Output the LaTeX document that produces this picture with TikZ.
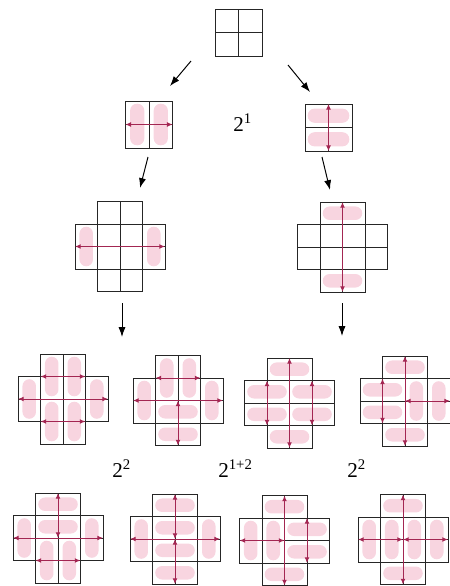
\documentclass[tikz,border=0pt]{standalone}
\usepackage{fontspec}
\setmainfont{Liberation Serif}
\usepackage{tikz}
\usetikzlibrary{arrows.meta}
\definecolor{dompink}{HTML}{F8D5E0}
\definecolor{flipred}{HTML}{A32652}

\newcommand{\cellsone}{-1/-1,0/-1,-1/0,0/0}
\newcommand{\cellstwo}{-1/1,0/1,-2/0,-1/0,0/0,1/0,-2/-1,-1/-1,0/-1,1/-1,-1/-2,0/-2}
\newcommand{\vdom}[2]{\fill[dom] (#1+0.2,#2+0.12) rectangle (#1+0.8,#2+1.88);}
\newcommand{\hdom}[2]{\fill[dom] (#1+0.12,#2+0.2) rectangle (#1+1.88,#2+0.8);}
% #1 cells, #2 dominoes, #3 flip arrows x1/y1/x2/y2
\newcommand{\tiling}[3]{%
  #2
  \foreach \i/\j in #1 {\draw[cell] (\i,\j) rectangle ++(1,1);}
  \foreach \a/\b/\c/\d in {#3} {\draw[flip] (\a,\b) -- (\c,\d);}
}

\begin{document}
\begin{tikzpicture}[x=0.025cm, y=-0.025cm,
  cell/.style={draw=black!85, line width=0.55pt},
  dom/.style={fill=dompink, rounded corners=0.17cm},
  flip/.style={{Latex[length=4pt,width=3.4pt]}-{Latex[length=4pt,width=3.4pt]}, draw=flipred, line width=0.65pt},
  arr/.style={-{Latex[length=7pt,width=5pt]}, line width=0.7pt},
  lab/.style={anchor=base west, inner sep=0pt, font=\fontsize{15}{18}\selectfont}
]
\useasboundingbox (0,0) rectangle (449,586);

\coordinate (top) at (238.5,32.5);
\coordinate (l1) at (149,124.5);
\coordinate (r1) at (328.5,127.5);
\coordinate (l2) at (120,246.5);
\coordinate (r2) at (342.5,247);
\coordinate (up1) at (63,399);
\coordinate (up2) at (178,400.5);
\coordinate (up3) at (289.5,403);
\coordinate (up4) at (405,401);
\coordinate (lo1) at (58,538);
\coordinate (lo2) at (175,539);
\coordinate (lo3) at (284.5,540.5);
\coordinate (lo4) at (403,539.5);

\begin{scope}[shift={(top)}, x=0.59cm, y=0.59cm]
  \foreach \i/\j in \cellsone {\draw[cell] (\i,\j) rectangle ++(1,1);}
\end{scope}
\begin{scope}[shift={(l1)}, x=0.59cm, y=0.59cm]
  \tiling{\cellsone}{\vdom{-1}{-1}\vdom{0}{-1}}{-1/0/1/0}
\end{scope}
\begin{scope}[shift={(r1)}, x=0.59cm, y=0.59cm]
  \tiling{\cellsone}{\hdom{-1}{0}\hdom{-1}{-1}}{0/-1/0/1}
\end{scope}

\begin{scope}[shift={(l2)}, x=0.5625cm, y=0.5625cm]
  \tiling{\cellstwo}{\vdom{-2}{-1}\vdom{1}{-1}}{-2/0/2/0}
\end{scope}
\begin{scope}[shift={(r2)}, x=0.5625cm, y=0.5625cm]
  \tiling{\cellstwo}{\hdom{-1}{1}\hdom{-1}{-2}}{0/-2/0/2}
\end{scope}

\begin{scope}[shift={(up1)}, x=0.5625cm, y=0.5625cm]
  \tiling{\cellstwo}{\vdom{-1}{0}\vdom{0}{0}\vdom{-2}{-1}\vdom{1}{-1}\vdom{-1}{-2}\vdom{0}{-2}}
    {-1/1/1/1, -2/0/2/0, -1/-1/1/-1}
\end{scope}
\begin{scope}[shift={(up2)}, x=0.5625cm, y=0.5625cm]
  \tiling{\cellstwo}{\vdom{-1}{0}\vdom{0}{0}\vdom{-2}{-1}\vdom{1}{-1}\hdom{-1}{-1}\hdom{-1}{-2}}
    {-1/1/1/1, -2/0/2/0, 0/0/0/-2}
\end{scope}
\begin{scope}[shift={(up3)}, x=0.5625cm, y=0.5625cm]
  \tiling{\cellstwo}{\hdom{-1}{1}\hdom{-2}{0}\hdom{0}{0}\hdom{-2}{-1}\hdom{0}{-1}\hdom{-1}{-2}}
    {0/-2/0/2, -1/-1/-1/1, 1/-1/1/1}
\end{scope}
\begin{scope}[shift={(up4)}, x=0.5625cm, y=0.5625cm]
  \tiling{\cellstwo}{\hdom{-1}{1}\hdom{-2}{0}\hdom{-2}{-1}\hdom{-1}{-2}\vdom{0}{-1}\vdom{1}{-1}}
    {0/-2/0/2, -1/-1/-1/1, 0/0/2/0}
\end{scope}

\begin{scope}[shift={(lo1)}, x=0.5625cm, y=0.5625cm]
  \tiling{\cellstwo}{\hdom{-1}{1}\hdom{-1}{0}\vdom{-2}{-1}\vdom{1}{-1}\vdom{-1}{-2}\vdom{0}{-2}}
    {0/0/0/2, -2/0/2/0, -1/-1/1/-1}
\end{scope}
\begin{scope}[shift={(lo2)}, x=0.5625cm, y=0.5625cm]
  \tiling{\cellstwo}{\hdom{-1}{1}\hdom{-1}{0}\hdom{-1}{-1}\hdom{-1}{-2}\vdom{-2}{-1}\vdom{1}{-1}}
    {0/0/0/2, 0/-2/0/0, -2/0/2/0}
\end{scope}
\begin{scope}[shift={(lo3)}, x=0.5625cm, y=0.5625cm]
  \tiling{\cellstwo}{\hdom{-1}{1}\hdom{0}{0}\hdom{0}{-1}\hdom{-1}{-2}\vdom{-2}{-1}\vdom{-1}{-1}}
    {0/-2/0/2, -2/0/0/0, 1/-1/1/1}
\end{scope}
\begin{scope}[shift={(lo4)}, x=0.5625cm, y=0.5625cm]
  \tiling{\cellstwo}{\hdom{-1}{1}\hdom{-1}{-2}\vdom{-2}{-1}\vdom{-1}{-1}\vdom{0}{-1}\vdom{1}{-1}}
    {0/-2/0/2, -2/0/0/0, 0/0/2/0}
\end{scope}

\coordinate (s1) at (191,61);   \coordinate (e1) at (170,86);
\coordinate (s2) at (288,65);   \coordinate (e2) at (310,92);
\coordinate (s3) at (148,157);  \coordinate (e3) at (140,188);
\coordinate (s4) at (322,157);  \coordinate (e4) at (330,190);
\coordinate (s5) at (122,303);  \coordinate (e5) at (122,337);
\coordinate (s6) at (342,303);  \coordinate (e6) at (342,336);
\draw[arr] (s1) -- (e1);
\draw[arr] (s2) -- (e2);
\draw[arr] (s3) -- (e3);
\draw[arr] (s4) -- (e4);
\draw[arr] (s5) -- (e5);
\draw[arr] (s6) -- (e6);

\node[lab] (n21) at (233,131) {2\textsuperscript{1}};
\node[lab] (n22a) at (112,477) {2\textsuperscript{2}};
\node[lab] (n212) at (218,477) {2\textsuperscript{1+2}};
\node[lab] (n22b) at (347,477) {2\textsuperscript{2}};
\end{tikzpicture}
\end{document}
